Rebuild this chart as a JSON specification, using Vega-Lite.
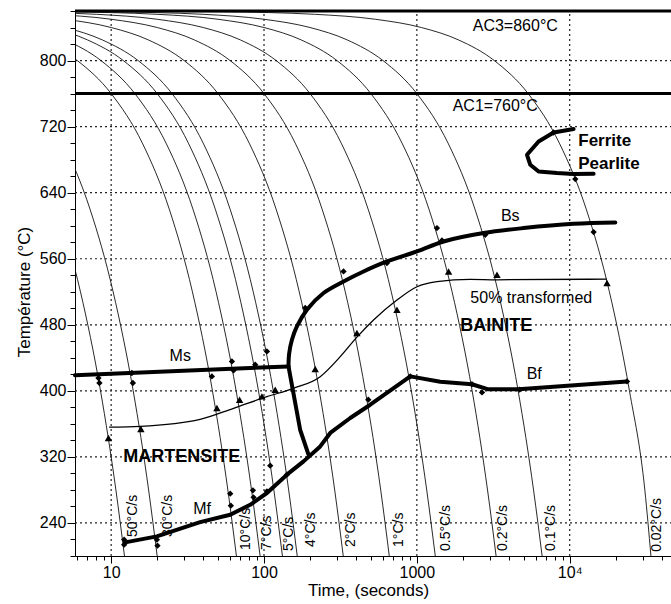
{
 "$schema": "https://vega.github.io/schema/vega-lite/v6.json",
 "width": 596, "height": 545,
 "autosize": {"type": "none"},
 "padding": {"left": 75, "top": 11, "right": 0, "bottom": 48},
 "background": "white",
 "config": {"view": {"stroke": null}, "font": "Liberation Sans"},
 "datasets": {
  "vgrid": [
   {"t":10,"T":200,"T2":860},{"t":100,"T":200,"T2":860},{"t":1000,"T":200,"T2":860},{"t":10000,"T":200,"T2":860}
  ],
  "hgrid": [
   {"t":5.8,"t2":46000,"T":240},{"t":5.8,"t2":46000,"T":320},{"t":5.8,"t2":46000,"T":400},{"t":5.8,"t2":46000,"T":480},{"t":5.8,"t2":46000,"T":560},{"t":5.8,"t2":46000,"T":640},{"t":5.8,"t2":46000,"T":720},{"t":5.8,"t2":46000,"T":800}
  ],
  "curves": [
   {"c":"50","t":1.111,"T":800},{"c":"50","t":1.852,"T":760},{"c":"50","t":2.963,"T":700},{"c":"50","t":4.444,"T":620},{"c":"50","t":6.296,"T":520},{"c":"50","t":8.519,"T":400},{"c":"50","t":10.74,"T":280},{"c":"50","t":12.22,"T":200},
   {"c":"30","t":1.818,"T":800},{"c":"30","t":3.03,"T":760},{"c":"30","t":4.848,"T":700},{"c":"30","t":7.273,"T":620},{"c":"30","t":10.3,"T":520},{"c":"30","t":13.94,"T":400},{"c":"30","t":17.58,"T":280},{"c":"30","t":20,"T":200},
   {"c":"10","t":0.1,"T":859},{"c":"10","t":0.4,"T":856},{"c":"10","t":1,"T":850},{"c":"10","t":2,"T":840},{"c":"10","t":3.5,"T":825},{"c":"10","t":6,"T":800},{"c":"10","t":10,"T":760},{"c":"10","t":16,"T":700},{"c":"10","t":24,"T":620},{"c":"10","t":34,"T":520},{"c":"10","t":46,"T":400},{"c":"10","t":58,"T":280},{"c":"10","t":66,"T":200},
   {"c":"7","t":0.143,"T":859},{"c":"7","t":0.571,"T":856},{"c":"7","t":1.429,"T":850},{"c":"7","t":2.857,"T":840},{"c":"7","t":5,"T":825},{"c":"7","t":8.571,"T":800},{"c":"7","t":14.29,"T":760},{"c":"7","t":22.86,"T":700},{"c":"7","t":34.29,"T":620},{"c":"7","t":48.57,"T":520},{"c":"7","t":65.71,"T":400},{"c":"7","t":82.86,"T":280},{"c":"7","t":94.29,"T":200},
   {"c":"5","t":0.2,"T":859},{"c":"5","t":0.8,"T":856},{"c":"5","t":2,"T":850},{"c":"5","t":4,"T":840},{"c":"5","t":7,"T":825},{"c":"5","t":12,"T":800},{"c":"5","t":20,"T":760},{"c":"5","t":32,"T":700},{"c":"5","t":48,"T":620},{"c":"5","t":68,"T":520},{"c":"5","t":92,"T":400},{"c":"5","t":116,"T":280},{"c":"5","t":132,"T":200},
   {"c":"4","t":0.25,"T":859},{"c":"4","t":1,"T":856},{"c":"4","t":2.5,"T":850},{"c":"4","t":5,"T":840},{"c":"4","t":8.75,"T":825},{"c":"4","t":15,"T":800},{"c":"4","t":25,"T":760},{"c":"4","t":40,"T":700},{"c":"4","t":60,"T":620},{"c":"4","t":85,"T":520},{"c":"4","t":115,"T":400},{"c":"4","t":145,"T":280},{"c":"4","t":165,"T":200},
   {"c":"2","t":0.5,"T":859},{"c":"2","t":2,"T":856},{"c":"2","t":5,"T":850},{"c":"2","t":10,"T":840},{"c":"2","t":17.5,"T":825},{"c":"2","t":30,"T":800},{"c":"2","t":50,"T":760},{"c":"2","t":80,"T":700},{"c":"2","t":120,"T":620},{"c":"2","t":170,"T":520},{"c":"2","t":230,"T":400},{"c":"2","t":290,"T":280},{"c":"2","t":330,"T":200},
   {"c":"1","t":1,"T":859},{"c":"1","t":4,"T":856},{"c":"1","t":10,"T":850},{"c":"1","t":20,"T":840},{"c":"1","t":35,"T":825},{"c":"1","t":60,"T":800},{"c":"1","t":100,"T":760},{"c":"1","t":160,"T":700},{"c":"1","t":240,"T":620},{"c":"1","t":340,"T":520},{"c":"1","t":460,"T":400},{"c":"1","t":580,"T":280},{"c":"1","t":660,"T":200},
   {"c":"0.5","t":2,"T":859},{"c":"0.5","t":8,"T":856},{"c":"0.5","t":20,"T":850},{"c":"0.5","t":40,"T":840},{"c":"0.5","t":70,"T":825},{"c":"0.5","t":120,"T":800},{"c":"0.5","t":200,"T":760},{"c":"0.5","t":320,"T":700},{"c":"0.5","t":480,"T":620},{"c":"0.5","t":680,"T":520},{"c":"0.5","t":920,"T":400},{"c":"0.5","t":1160,"T":280},{"c":"0.5","t":1320,"T":200},
   {"c":"0.2","t":5,"T":859},{"c":"0.2","t":20,"T":856},{"c":"0.2","t":50,"T":850},{"c":"0.2","t":100,"T":840},{"c":"0.2","t":175,"T":825},{"c":"0.2","t":300,"T":800},{"c":"0.2","t":500,"T":760},{"c":"0.2","t":800,"T":700},{"c":"0.2","t":1200,"T":620},{"c":"0.2","t":1700,"T":520},{"c":"0.2","t":2300,"T":400},{"c":"0.2","t":2900,"T":280},{"c":"0.2","t":3300,"T":200},
   {"c":"0.1","t":5,"T":859.5},{"c":"0.1","t":10,"T":859},{"c":"0.1","t":40,"T":856},{"c":"0.1","t":100,"T":850},{"c":"0.1","t":200,"T":840},{"c":"0.1","t":350,"T":825},{"c":"0.1","t":600,"T":800},{"c":"0.1","t":1000,"T":760},{"c":"0.1","t":1600,"T":700},{"c":"0.1","t":2400,"T":620},{"c":"0.1","t":3400,"T":520},{"c":"0.1","t":4600,"T":400},{"c":"0.1","t":5800,"T":280},{"c":"0.1","t":6600,"T":200},
   {"c":"0.02","t":5,"T":859.9},{"c":"0.02","t":53.5,"T":859},{"c":"0.02","t":213.9,"T":856},{"c":"0.02","t":534.8,"T":850},{"c":"0.02","t":1070,"T":840},{"c":"0.02","t":1872,"T":825},{"c":"0.02","t":3209,"T":800},{"c":"0.02","t":5348,"T":760},{"c":"0.02","t":8556,"T":700},{"c":"0.02","t":12834,"T":620},{"c":"0.02","t":18182,"T":520},{"c":"0.02","t":24599,"T":400},{"c":"0.02","t":31016,"T":280},{"c":"0.02","t":34000,"T":200}
  ],
  "rates": [
   {"t":13.94,"T":223,"label":"50°C/s"},{"t":23.4,"T":223,"label":"30°C/s"},{"t":75.9,"T":207.3,"label":"10°C/s"},{"t":104.5,"T":207.3,"label":"7°C/s"},{"t":146.2,"T":206,"label":"5°C/s"},{"t":203.7,"T":210.9,"label":"4°C/s"},{"t":371,"T":210.9,"label":"2°C/s"},{"t":758.6,"T":210.9,"label":"1°C/s"},{"t":1552,"T":206,"label":"0.5°C/s"},{"t":3648,"T":206,"label":"0.2°C/s"},{"t":7550,"T":206,"label":"0.1°C/s"},{"t":37200,"T":205,"label":"0.02°C/s"}
  ],
  "half": [
   {"t":9.7,"T":356},{"t":15.5,"T":357},{"t":38.2,"T":365.5},{"t":63.2,"T":378.9},{"t":104.5,"T":392.9},{"t":155.9,"T":403.1},{"t":233.2,"T":417.2},{"t":315.2,"T":441.4},{"t":405.5,"T":465},{"t":520.6,"T":485.8},{"t":741,"T":510},{"t":1002,"T":526.1},{"t":1353,"T":532.2},{"t":2236,"T":535},{"t":3344,"T":534.5},{"t":17540,"T":535.4}
  ],
  "thick": [
   {"seg":"Ms","i":0,"t":5.8,"T":419},{"seg":"Ms","i":1,"t":144.6,"T":429.6},
   {"seg":"MsMf","i":0,"t":144.6,"T":429.6},{"seg":"MsMf","i":1,"t":172.5,"T":352.6},{"seg":"MsMf","i":2,"t":195.5,"T":322.7},
   {"seg":"Mf","i":0,"t":12.35,"T":216.5},{"seg":"Mf","i":1,"t":19.9,"T":223.8},{"seg":"Mf","i":2,"t":38.2,"T":241},{"seg":"Mf","i":3,"t":60.1,"T":250},{"seg":"Mf","i":4,"t":81.2,"T":262},{"seg":"Mf","i":5,"t":104.5,"T":276.3},{"seg":"Mf","i":6,"t":141.2,"T":298.5},{"seg":"Mf","i":7,"t":181.4,"T":314.6},{"seg":"Mf","i":8,"t":233.2,"T":332.7},{"seg":"Mf","i":9,"t":271.3,"T":349},{"seg":"Mf","i":10,"t":366.6,"T":367.1},{"seg":"Mf","i":11,"t":495.5,"T":383.2},{"seg":"Mf","i":12,"t":905.6,"T":417.5},{"seg":"Mf","i":13,"t":1423,"T":411.1},{"seg":"Mf","i":14,"t":2294,"T":408},{"seg":"Mf","i":15,"t":2900,"T":402},{"seg":"Mf","i":16,"t":4630,"T":401.8},{"seg":"Mf","i":17,"t":23710,"T":411.4},
   {"seg":"FP","i":0,"t":10605,"T":717},{"seg":"FP","i":1,"t":7848,"T":712.9},{"seg":"FP","i":2,"t":6259,"T":702},{"seg":"FP","i":3,"t":5256,"T":685.9},{"seg":"FP","i":4,"t":5523,"T":673.8},{"seg":"FP","i":5,"t":6259,"T":665.6},{"seg":"FP","i":6,"t":8261,"T":663.7},{"seg":"FP","i":7,"t":10605,"T":662.5},{"seg":"FP","i":8,"t":14336,"T":662.9}
  ],
  "bs": [
   {"i":0,"t":144.6,"T":429.6},{"i":1,"t":146,"T":445},{"i":2,"t":152.3,"T":461.9},{"i":3,"t":164.2,"T":478},{"i":4,"t":190.9,"T":498.2},{"i":5,"t":245.2,"T":518.5},{"i":6,"t":331.4,"T":532.5},{"i":7,"t":448,"T":544.6},{"i":8,"t":637.4,"T":556.7},{"i":9,"t":1002,"T":568.8},{"i":10,"t":1495,"T":580.9},{"i":11,"t":2733,"T":591.1},{"i":12,"t":4993,"T":597.1},{"i":13,"t":10605,"T":602.3},{"i":14,"t":19880,"T":603.9}
  ],
  "ac": [
   {"name":"AC3","t":5.8,"T":860},{"name":"AC3","t":46000,"T":860},
   {"name":"AC1","t":5.8,"T":760},{"name":"AC1","t":46000,"T":760}
  ],
  "tri": [
   {"t":9.6,"T":342.9},{"t":15.65,"T":353.8},{"t":49.2,"T":379.2},{"t":69.2,"T":389.3},{"t":96.9,"T":393.3},{"t":118.4,"T":401.4},{"t":216.3,"T":426.4},{"t":405.5,"T":470},{"t":741,"T":498.2},{"t":1613,"T":544.6},{"t":3344,"T":540.6},{"t":17540,"T":530.6}
  ],
  "dia": [
   {"t":8.26,"T":415.5},{"t":8.38,"T":409.5},{"t":13.66,"T":421.6},{"t":13.87,"T":409.5},{"t":12.16,"T":219.8},{"t":12.16,"T":213.7},{"t":19.91,"T":219.8},{"t":20.1,"T":212.5},{"t":45.6,"T":417.5},{"t":61.7,"T":435.6},{"t":63.2,"T":424.7},{"t":87.6,"T":431.6},{"t":104.5,"T":447.7},{"t":60.1,"T":275.5},{"t":60.7,"T":260.9},{"t":84.6,"T":279.5},{"t":85.4,"T":271},{"t":109.8,"T":309.4},{"t":104.5,"T":278.3},{"t":141.2,"T":298.5},{"t":186,"T":500.3},{"t":331.4,"T":544.6},{"t":637.4,"T":554.8},{"t":1353,"T":597.1},{"t":1460,"T":582.1},{"t":2803,"T":589},{"t":14336,"T":592.3},{"t":481,"T":389.3},{"t":905.6,"T":417.5},{"t":2294,"T":408},{"t":2668,"T":398.1},{"t":4700,"T":401.4},{"t":23710,"T":411.4},{"t":7848,"T":712.9},{"t":10880,"T":656.4}
  ],
  "txt": [
   {"t":4406,"T":841.8,"label":"AC3=860°C"},{"t":3258,"T":745,"label":"AC1=760°C"},{"t":28.3,"T":442.2,"label":"Ms"},{"t":39.4,"T":257,"label":"Mf"},{"t":4083,"T":611.8,"label":"Bs"},{"t":5862,"T":420.4,"label":"Bf"},{"t":5607,"T":511.9,"label":"50% transformed"}
  ],
  "bold18": [
   {"t":11.98,"T":319.3,"label":"MARTENSITE"},{"t":1923,"T":478.5,"label":"BAINITE"}
  ],
  "bold17": [
   {"t":11380,"T":702,"label":"Ferrite"},{"t":11380,"T":675.3,"label":"Pearlite"}
  ]
 },
 "encoding": {
  "x": {"field": "t", "type": "quantitative",
   "scale": {"type": "log", "domain": [5.8, 46000], "nice": false},
   "axis": {
    "title": "Time, (seconds)",
    "values": [6,7,8,9,10,20,30,40,50,60,70,80,90,100,200,300,400,500,600,700,800,900,1000,2000,3000,4000,5000,6000,7000,8000,9000,10000,20000,30000,40000],
    "labelExpr": "datum.value == 10 ? '10' : datum.value == 100 ? '100' : datum.value == 1000 ? '1000' : datum.value == 10000 ? '10⁴' : ''",
    "grid": false,
    "tickSize": {"condition": {"test": "indexof([10,100,1000,10000], datum.value) >= 0", "value": 7}, "value": 4},
    "tickColor": "black", "domainColor": "black", "domainWidth": 1,
    "labelFontSize": 16, "labelColor": "black", "labelPadding": 1, "labelOverlap": false, "labelFlush": false, "labelFont": "Liberation Sans",
    "titleFontSize": 17, "titleFontWeight": "normal", "titleColor": "black", "titleFont": "Liberation Sans",
    "titleX": 293, "titleY": 39, "titleBaseline": "alphabetic"
   }
  },
  "y": {"field": "T", "type": "quantitative",
   "scale": {"domain": [200, 860], "nice": false, "zero": false},
   "axis": {
    "title": "Température (°C)",
    "values": [200,220,240,260,280,300,320,340,360,380,400,420,440,460,480,500,520,540,560,580,600,620,640,660,680,700,720,740,760,780,800,820,840,860],
    "labelExpr": "datum.value % 80 == 0 ? datum.label : ''",
    "grid": false,
    "tickSize": {"condition": {"test": "datum.value % 80 == 0", "value": 8}, "value": 5},
    "tickColor": "black", "domainColor": "black", "domainWidth": 1,
    "labelFontSize": 16, "labelColor": "black", "labelPadding": 1, "labelOverlap": false, "labelFlush": false, "labelFont": "Liberation Sans",
    "titleFontSize": 17, "titleFontWeight": "normal", "titleColor": "black", "titleFont": "Liberation Sans",
    "titleX": -46, "titleY": 280.5, "titleBaseline": "alphabetic", "titleAlign": "center", "titleAngle": 270
   }
  }
 },
 "layer": [
  {"data": {"name": "vgrid"}, "mark": {"type": "rule", "stroke": "#222", "strokeWidth": 1.2, "strokeDash": [2, 3]}, "encoding": {"y2": {"field": "T2"}}},
  {"data": {"name": "hgrid"}, "mark": {"type": "rule", "stroke": "#222", "strokeWidth": 1.2, "strokeDash": [2, 3]}, "encoding": {"x2": {"field": "t2"}}},
  {"data": {"name": "curves"}, "mark": {"type": "line", "stroke": "#111", "strokeWidth": 0.9, "interpolate": "monotone", "clip": true}, "encoding": {"detail": {"field": "c"}}},
  {"data": {"name": "rates"}, "mark": {"type": "text", "angle": 270, "align": "left", "baseline": "middle", "fontSize": 14, "font": "Liberation Sans", "color": "black"}, "encoding": {"text": {"field": "label"}}},
  {"data": {"name": "half"}, "mark": {"type": "line", "stroke": "black", "strokeWidth": 1.3, "interpolate": "monotone"}},
  {"data": {"name": "thick"}, "mark": {"type": "line", "stroke": "black", "strokeWidth": 4, "strokeJoin": "round", "strokeCap": "round"}, "encoding": {"detail": {"field": "seg"}, "order": {"field": "i"}}},
  {"data": {"name": "bs"}, "mark": {"type": "line", "stroke": "black", "strokeWidth": 4, "interpolate": "catmull-rom", "strokeCap": "round"}, "encoding": {"order": {"field": "i"}}},
  {"data": {"name": "ac"}, "mark": {"type": "line", "stroke": "black", "strokeWidth": 3}, "encoding": {"detail": {"field": "name"}}},
  {"data": {"name": "tri"}, "mark": {"type": "point", "shape": "triangle-up", "filled": true, "color": "black", "size": 55, "opacity": 1}},
  {"data": {"name": "dia"}, "mark": {"type": "point", "shape": "diamond", "filled": true, "color": "black", "size": 40, "opacity": 1}},
  {"data": {"name": "txt"}, "mark": {"type": "text", "fontSize": 16, "align": "center", "baseline": "middle", "color": "black", "font": "Liberation Sans"}, "encoding": {"text": {"field": "label"}}},
  {"data": {"name": "bold18"}, "mark": {"type": "text", "fontSize": 18, "fontWeight": "bold", "align": "left", "baseline": "middle", "color": "black", "font": "Liberation Sans"}, "encoding": {"text": {"field": "label"}}},
  {"data": {"name": "bold17"}, "mark": {"type": "text", "fontSize": 17, "fontWeight": "bold", "align": "left", "baseline": "middle", "color": "black", "font": "Liberation Sans"}, "encoding": {"text": {"field": "label"}}}
 ]
}
